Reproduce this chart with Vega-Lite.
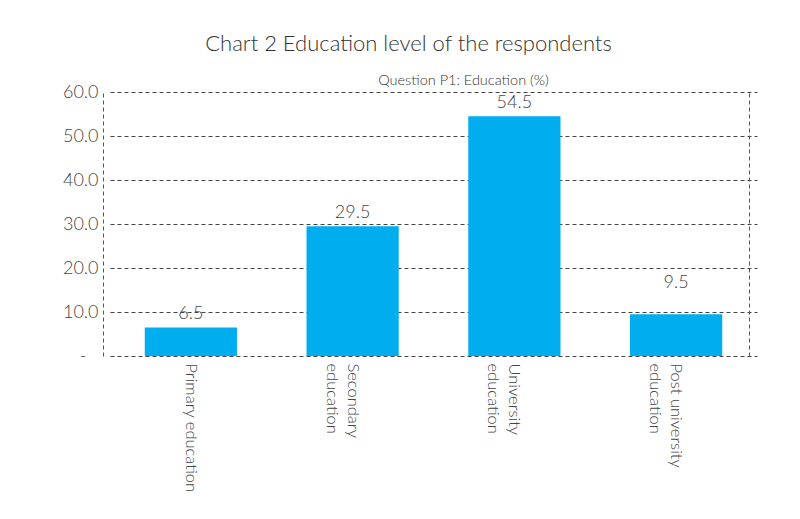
{
  "$schema": "https://vega.github.io/schema/vega-lite/v6.json",
  "width": 647,
  "height": 264,
  "autosize": {"type": "none"},
  "padding": {"left": 110, "top": 92, "right": 43, "bottom": 163},
  "background": "white",
  "title": {
    "text": "Chart 2 Education level of the respondents",
    "font": "Lato",
    "fontWeight": 300,
    "fontSize": 22,
    "color": "#333333",
    "anchor": "middle",
    "dx": -25,
    "offset": 16
  },
  "config": {
    "view": {"stroke": null},
    "font": "Lato",
    "axis": {"labelFont": "Lato", "titleFont": "Lato"}
  },
  "data": {
    "values": [
      {"level": "Primary education", "pct": 6.5},
      {"level": "Secondary education", "pct": 29.5},
      {"level": "University education", "pct": 54.5},
      {"level": "Post university education", "pct": 9.5}
    ]
  },
  "layer": [
    {
      "mark": {"type": "bar", "color": "#00ADEF"},
      "encoding": {
        "x": {
          "field": "level",
          "type": "nominal",
          "sort": null,
          "scale": {"paddingInner": 0.43, "paddingOuter": 0.215},
          "axis": {
            "orient": "bottom",
            "title": null,
            "domain": false,
            "ticks": false,
            "labelAngle": 90,
            "labelAlign": "left",
            "labelBaseline": "middle",
            "labelPadding": 7,
            "labelFontSize": 16.5,
            "labelFontWeight": 300,
            "labelColor": "#444444",
            "labelLineHeight": 21,
            "labelExpr": "datum.value == 'Secondary education' ? ['Secondary', 'education'] : datum.value == 'University education' ? ['University', 'education'] : datum.value == 'Post university education' ? ['Post university', 'education'] : datum.value"
          }
        },
        "y": {
          "field": "pct",
          "type": "quantitative",
          "scale": {"domain": [0, 60], "nice": false},
          "axis": {
            "orient": "left",
            "title": null,
            "values": [0, 10, 20, 30, 40, 50, 60],
            "labelExpr": "datum.value == 0 ? '-' : format(datum.value, '.1f')",
            "labelFontSize": 18,
            "labelFontWeight": 300,
            "labelColor": "#444444",
            "labelPadding": {"condition": {"test": "datum.value == 0", "value": 17}, "value": 5},
            "ticks": false,
            "offset": 7,
            "domain": true,
            "domainColor": "#555555",
            "domainDash": [4, 3],
            "grid": true,
            "gridColor": "#444444",
            "gridDash": [4, 3],
            "gridWidth": 1,
            "gridOpacity": 1
          }
        }
      }
    },
    {
      "transform": [{"filter": "datum.level != 'Post university education'"}],
      "mark": {
        "type": "text",
        "baseline": "bottom",
        "dy": -4,
        "fontSize": 18,
        "fontWeight": 300,
        "color": "#444444"
      },
      "encoding": {
        "x": {
          "field": "level",
          "type": "nominal",
          "sort": null,
          "axis": {
            "orient": "top",
            "title": "Question P1: Education (%)",
            "labels": false,
            "ticks": false,
            "domain": false,
            "grid": false,
            "titleFontSize": 14.5,
            "titleFontWeight": 300,
            "titleColor": "#333333",
            "titleX": 353,
            "titleY": -5,
            "titleAnchor": "middle",
            "titleAlign": "center",
            "titleBaseline": "bottom"
          }
        },
        "y": {
          "field": "pct",
          "type": "quantitative",
          "axis": {
            "orient": "right",
            "title": null,
            "labels": false,
            "ticks": false,
            "grid": false,
            "domain": true,
            "domainColor": "#555555",
            "domainDash": [4, 3],
            "offset": -8
          }
        },
        "text": {"field": "pct", "type": "quantitative", "format": ".1f"}
      }
    },
    {
      "transform": [{"filter": "datum.level == 'Post university education'"}],
      "mark": {
        "type": "text",
        "baseline": "bottom",
        "dy": -22,
        "fontSize": 18,
        "fontWeight": 300,
        "color": "#444444"
      },
      "encoding": {
        "x": {"field": "level", "type": "nominal", "sort": null, "axis": null},
        "y": {"field": "pct", "type": "quantitative", "axis": null},
        "text": {"field": "pct", "type": "quantitative", "format": ".1f"}
      }
    }
  ]
}
